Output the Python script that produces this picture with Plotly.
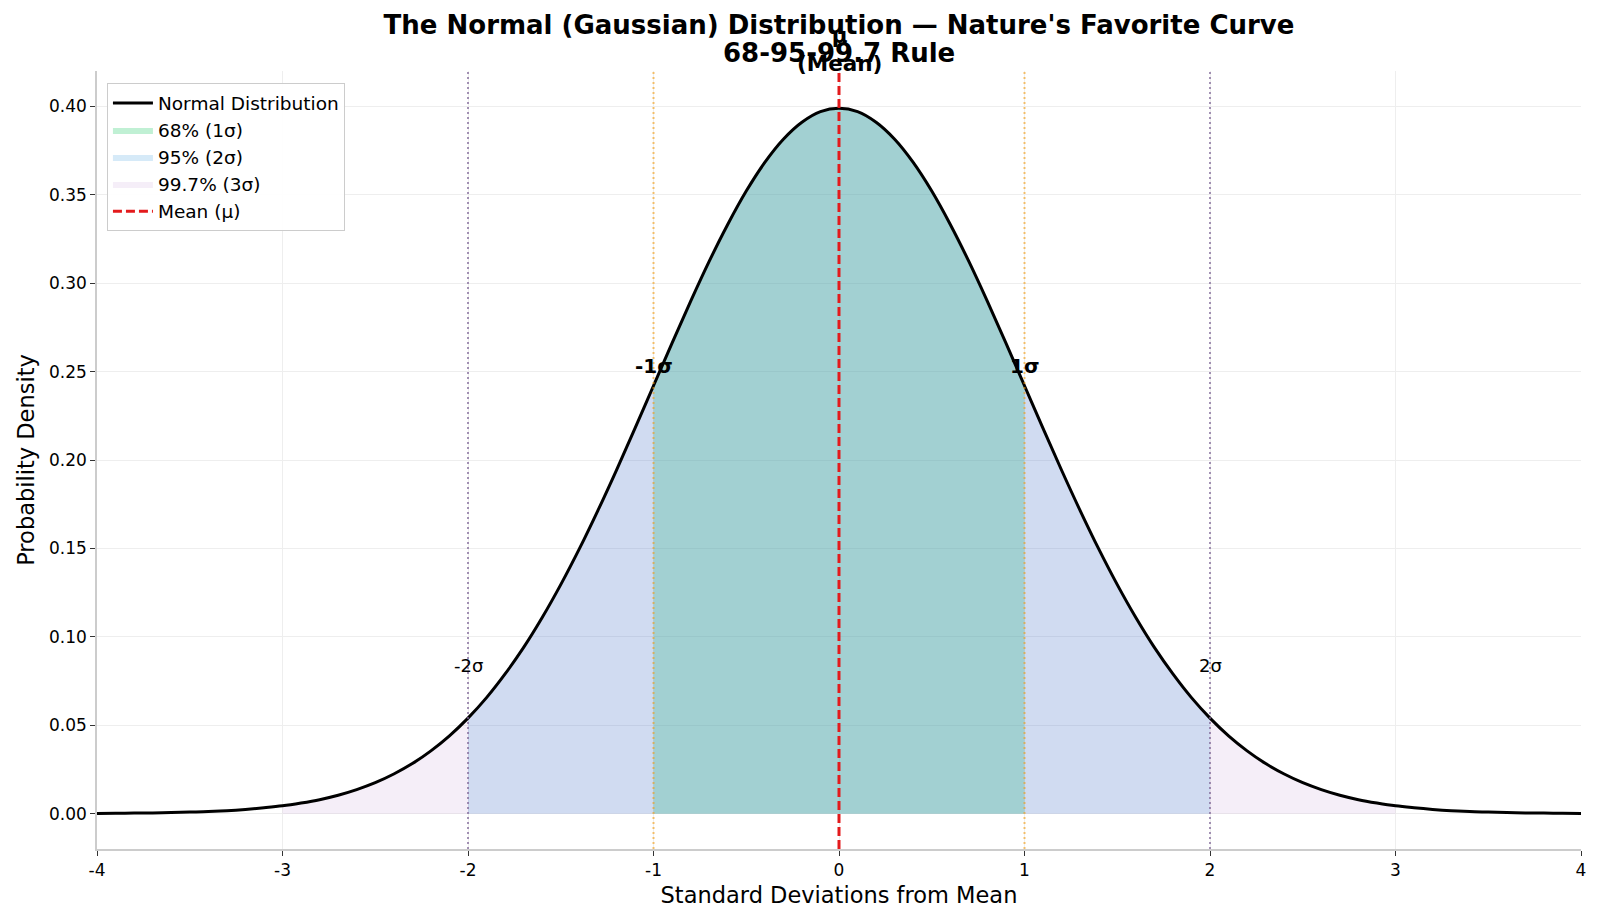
import plotly.graph_objects as go

# standard deviations from the mean, and the density
x_sd = [-4.0, -3.9, -3.8, -3.7, -3.6, -3.5, -3.4, -3.3, -3.2, -3.1,
        -3.0, -2.9, -2.8, -2.7, -2.6, -2.5, -2.4, -2.3, -2.2, -2.1,
        -2.0, -1.9, -1.8, -1.7, -1.6, -1.5, -1.4, -1.3, -1.2, -1.1,
        -1.0, -0.9, -0.8, -0.7, -0.6, -0.5, -0.4, -0.3, -0.2, -0.1,
        0.0, 0.1, 0.2, 0.3, 0.4, 0.5, 0.6, 0.7, 0.8, 0.9,
        1.0, 1.1, 1.2, 1.3, 1.4, 1.5, 1.6, 1.7, 1.8, 1.9,
        2.0, 2.1, 2.2, 2.3, 2.4, 2.5, 2.6, 2.7, 2.8, 2.9,
        3.0, 3.1, 3.2, 3.3, 3.4, 3.5, 3.6, 3.7, 3.8, 3.9, 4.0]
density = [0.0001, 0.0002, 0.0003, 0.0004, 0.0006, 0.0009, 0.0012, 0.0017, 0.0024, 0.0033,
           0.0044, 0.0060, 0.0079, 0.0104, 0.0136, 0.0175, 0.0224, 0.0283, 0.0355, 0.0440,
           0.0540, 0.0656, 0.0790, 0.0940, 0.1109, 0.1295, 0.1497, 0.1714, 0.1942, 0.2179,
           0.2420, 0.2661, 0.2897, 0.3123, 0.3332, 0.3521, 0.3683, 0.3814, 0.3910, 0.3970,
           0.3989, 0.3970, 0.3910, 0.3814, 0.3683, 0.3521, 0.3332, 0.3123, 0.2897, 0.2661,
           0.2420, 0.2179, 0.1942, 0.1714, 0.1497, 0.1295, 0.1109, 0.0940, 0.0790, 0.0656,
           0.0540, 0.0440, 0.0355, 0.0283, 0.0224, 0.0175, 0.0136, 0.0104, 0.0079, 0.0060,
           0.0044, 0.0033, 0.0024, 0.0017, 0.0012, 0.0009, 0.0006, 0.0004, 0.0003, 0.0002, 0.0001]

# shaded bands: (label, half width in sigma, fill colour)
bands = [
    ('68% (1σ)', 1, 'rgba(46,204,113,0.3)'),
    ('95% (2σ)', 2, 'rgba(52,152,219,0.2)'),
    ('99.7% (3σ)', 3, 'rgba(155,89,182,0.1)'),
]

sigma_marks = [-2, -1, 1, 2]
sigma_labels = ['-2σ', '-1σ', '1σ', '2σ']
sigma_label_y = [0.084, 0.253, 0.253, 0.084]

x_ticks = [-4, -3, -2, -1, 0, 1, 2, 3, 4]
x_tick_text = ['-4', '-3', '-2', '-1', '0', '1', '2', '3', '4']
y_ticks = [0, 0.05, 0.1, 0.15, 0.2, 0.25, 0.3, 0.35, 0.4]

y_lo, y_hi = -0.02, 0.42

W, H = 1617, 926

fig = go.Figure()

# fills first (68 -> 95 -> 99.7, like the original stacking)
for rank, (name, k, col) in enumerate(bands):
    xs = [x for x in x_sd if -k - 1e-9 <= x <= k + 1e-9]
    ys = [d for x, d in zip(x_sd, density) if -k - 1e-9 <= x <= k + 1e-9]
    fig.add_trace(go.Scatter(
        x=xs, y=ys, mode='lines', name=name,
        line=dict(width=0, shape='spline'),
        fill='tozeroy', fillcolor=col,
        legendrank=2 + rank, hoverinfo='skip'
    ))

# dotted sigma lines
for m in sigma_marks:
    col = 'rgba(243,156,18,0.6)' if abs(m) == 1 else 'rgba(125,100,150,0.7)'
    fig.add_shape(type='line', x0=m, x1=m, y0=y_lo, y1=y_hi, xref='x', yref='y',
                  line=dict(color=col, width=2, dash='2px,3px'))

# main curve
fig.add_trace(go.Scatter(
    x=x_sd, y=density, mode='lines', name='Normal Distribution',
    line=dict(color='black', width=3, shape='spline'), legendrank=1
))

# mean line
fig.add_trace(go.Scatter(
    x=[0, 0], y=[y_lo, y_hi], mode='lines', name='Mean (μ)',
    line=dict(color='#e31a1c', width=3, dash='9px,4px'), legendrank=5
))

for m, lab, ly in zip(sigma_marks, sigma_labels, sigma_label_y):
    bold = abs(m) == 1
    fig.add_annotation(
        x=m, y=ly, text=f'<b>{lab}</b>' if bold else lab, showarrow=False,
        font=dict(size=20 if bold else 18, color='black'),
        xanchor='center', yanchor='middle'
    )

fig.add_annotation(
    x=0, y=y_hi, text='<b>μ<br>(Mean)</b>', showarrow=False, yshift=-7,
    font=dict(size=21.5, color='black'), xanchor='center', yanchor='bottom'
)

# second title line
fig.add_annotation(
    x=831 / W, xref='paper', y=1 - 45 / H, yref='paper', text='<b>68-95-99.7 Rule</b>',
    showarrow=False, font=dict(size=26, color='black'), xanchor='center', yanchor='middle'
)
fig.layout.annotations[-1].update(xref='paper', yref='paper',
                                  x=(831 - 89) / (1573 - 89), y=(841 - 45) / (841 - 63))

fig.update_layout(
    width=W, height=H,
    margin=dict(l=89, r=W - 1573, t=63, b=H - 841),
    plot_bgcolor='white', paper_bgcolor='white',
    font=dict(family='DejaVu Sans', size=17, color='black'),
    title=dict(
        text="<b>The Normal (Gaussian) Distribution — Nature's Favorite Curve</b>",
        x=831 / W, xanchor='center', y=1 - 16.5 / H, yanchor='middle', yref='container',
        font=dict(size=26, color='black')
    ),
    legend=dict(
        x=0.0067, y=0.984, xanchor='left', yanchor='top',
        bordercolor='#cccccc', borderwidth=1, bgcolor='rgba(255,255,255,0.9)',
        font=dict(size=18.5), itemwidth=40, tracegroupgap=2
    ),
    xaxis=dict(
        range=[-4, 4], tickvals=x_ticks, ticktext=x_tick_text,
        showgrid=True, gridcolor='#eeeeee', gridwidth=1, zeroline=False,
        showline=True, linecolor='#cccccc', linewidth=1.5,
        ticks='outside', ticklen=5, tickcolor='#333333',
        title=dict(text='Standard Deviations from Mean', font=dict(size=22.5), standoff=8)
    ),
    yaxis=dict(
        range=[y_lo, y_hi], tickvals=y_ticks, tickformat='.2f',
        showgrid=True, gridcolor='#eeeeee', gridwidth=1, zeroline=False,
        showline=True, linecolor='#cccccc', linewidth=1.5,
        ticks='outside', ticklen=5, tickcolor='#333333',
        title=dict(text='Probability Density', font=dict(size=22.5), standoff=8)
    ),
)

fig.write_html('out.html')
